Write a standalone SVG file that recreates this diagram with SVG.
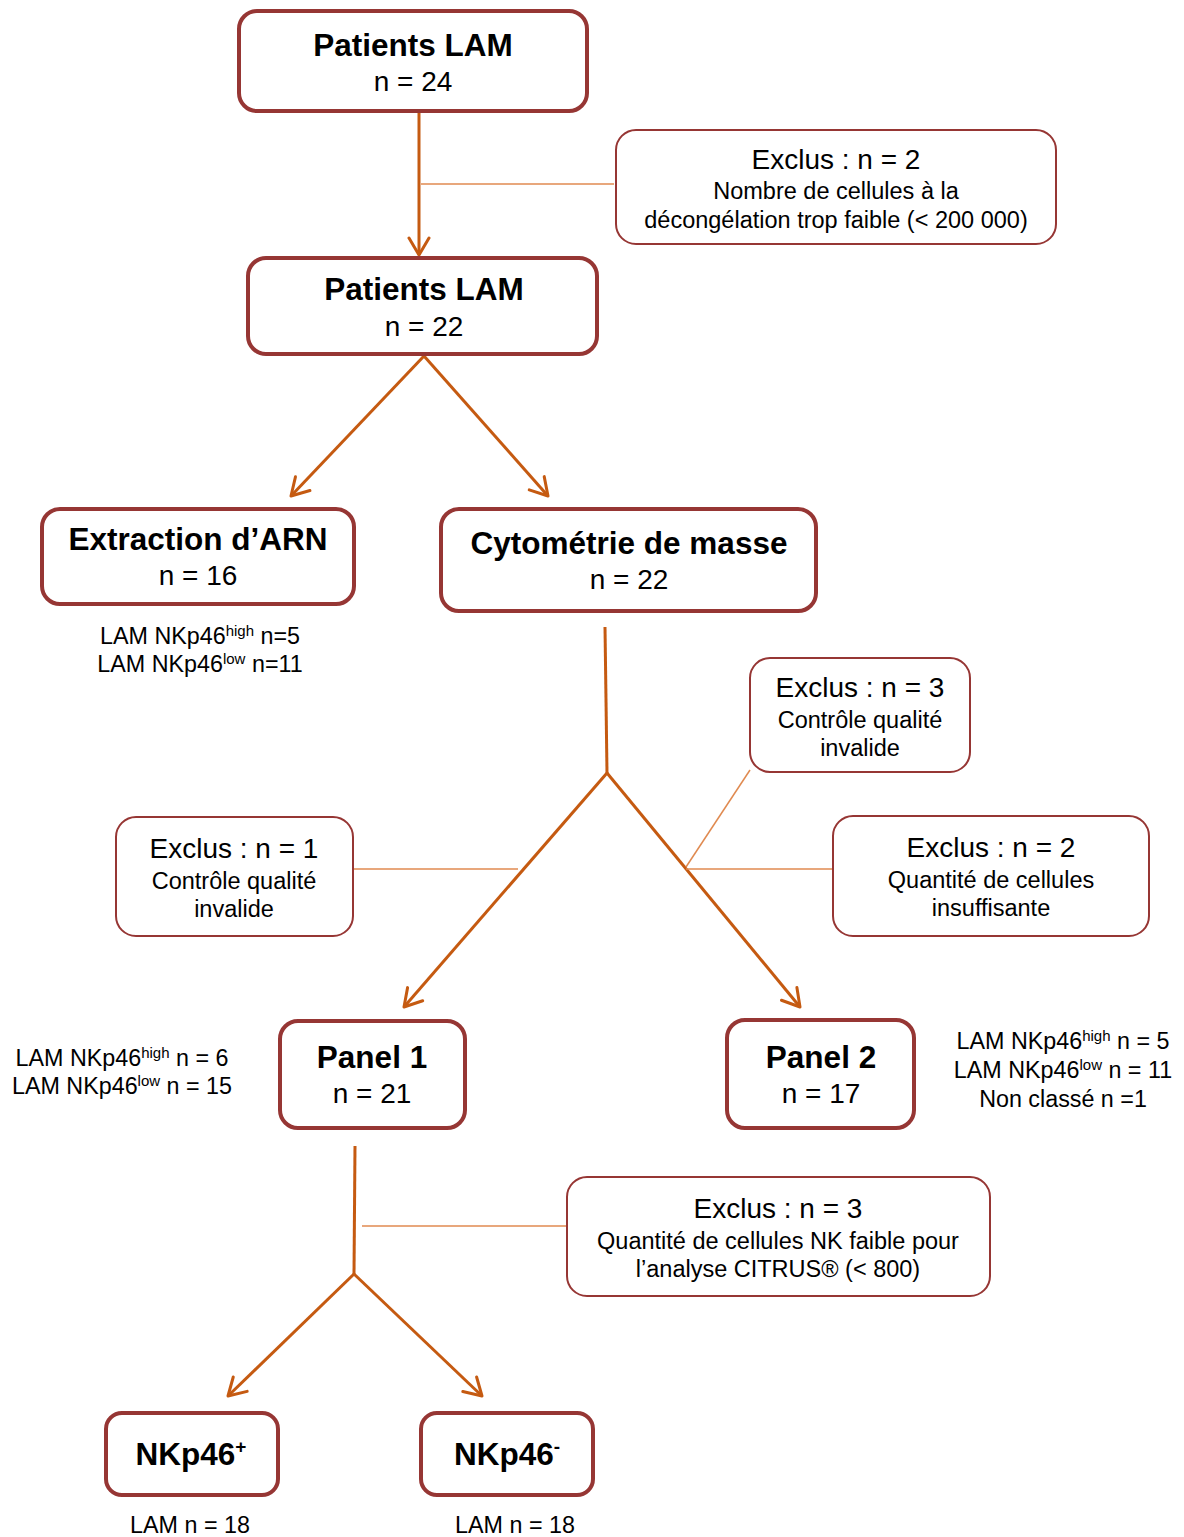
<svg xmlns="http://www.w3.org/2000/svg" width="1184" height="1537" viewBox="0 0 1184 1537">
<defs>
<style>
.node{fill:#fff;stroke:#963634;stroke-width:4}
.ex{fill:#fff;stroke:#963634;stroke-width:2}
.conn{fill:none;stroke:#C55A11;stroke-width:3}
.thin{fill:none;stroke:#E08A50;stroke-width:1.5}
text{font-family:"Liberation Sans",Arial,sans-serif;fill:#000;text-anchor:middle}
.b{font-weight:bold;font-size:31.5px}
.n{font-size:28px}
.eh{font-size:28px}
.es{font-size:23.5px}
.lab{font-size:23.3px}
</style>
<marker id="arr" markerUnits="userSpaceOnUse" viewBox="0 0 24 24" markerWidth="24" markerHeight="24" refX="21" refY="12" orient="auto">
<path d="M4,2 L21,12 L4,22" fill="none" stroke="#C55A11" stroke-width="3" stroke-linecap="round" stroke-linejoin="round"/>
</marker>
</defs>
<rect width="1184" height="1537" fill="#fff"/>
<g id="connectors">
<line class="conn" x1="419" y1="112" x2="419" y2="255" marker-end="url(#arr)"/>
<line class="thin" x1="421" y1="184" x2="614" y2="184"/>
<line class="conn" x1="424" y1="356" x2="291" y2="496" marker-end="url(#arr)"/>
<line class="conn" x1="424" y1="356" x2="548" y2="496" marker-end="url(#arr)"/>
<line class="conn" x1="605" y1="627" x2="607" y2="773"/>
<line class="conn" x1="607" y1="773" x2="404" y2="1007" marker-end="url(#arr)"/>
<line class="conn" x1="607" y1="773" x2="800" y2="1007" marker-end="url(#arr)"/>
<line class="thin" x1="354" y1="869" x2="518" y2="869"/>
<line class="thin" x1="750" y1="770" x2="686" y2="867"/>
<line class="thin" x1="686" y1="869" x2="832" y2="869"/>
<line class="conn" x1="355" y1="1146" x2="354" y2="1274"/>
<line class="conn" x1="354" y1="1274" x2="228" y2="1396" marker-end="url(#arr)"/>
<line class="conn" x1="354" y1="1274" x2="482" y2="1396" marker-end="url(#arr)"/>
<line class="thin" x1="362" y1="1226" x2="566" y2="1226"/>
</g>
<g id="n1"><rect class="node" x="239" y="11" width="348" height="100" rx="18"/><text class="b" x="413" y="56">Patients LAM</text><text class="n" x="413" y="91">n = 24</text></g>
<g id="ex1"><rect class="ex" x="616" y="130" width="440" height="114" rx="20"/><text class="eh" x="836" y="169">Exclus : n = 2</text><text class="es" x="836" y="199">Nombre de cellules à la</text><text class="es" x="836" y="228">décongélation trop faible (&lt; 200 000)</text></g>
<g id="n2"><rect class="node" x="248" y="258" width="349" height="96" rx="18"/><text class="b" x="424" y="300">Patients LAM</text><text class="n" x="424" y="336">n = 22</text></g>
<g id="n3"><rect class="node" x="42" y="509" width="312" height="95" rx="18"/><text class="b" x="198" y="550">Extraction d’ARN</text><text class="n" x="198" y="585">n = 16</text></g>
<g id="n4"><rect class="node" x="441" y="509" width="375" height="102" rx="18"/><text class="b" x="629" y="554">Cytométrie de masse</text><text class="n" x="629" y="589">n = 22</text></g>
<g id="lab1"><text class="lab" x="200" y="644">LAM NKp46<tspan font-size="15" dy="-8">high</tspan><tspan dy="8"> n=5</tspan></text><text class="lab" x="200" y="672">LAM NKp46<tspan font-size="15" dy="-8">low</tspan><tspan dy="8"> n=11</tspan></text></g>
<g id="ex2"><rect class="ex" x="750" y="658" width="220" height="114" rx="20"/><text class="eh" x="860" y="697">Exclus : n = 3</text><text class="es" x="860" y="728">Contrôle qualité</text><text class="es" x="860" y="756">invalide</text></g>
<g id="ex3"><rect class="ex" x="116" y="817" width="237" height="119" rx="20"/><text class="eh" x="234" y="858">Exclus : n = 1</text><text class="es" x="234" y="889">Contrôle qualité</text><text class="es" x="234" y="917">invalide</text></g>
<g id="ex4"><rect class="ex" x="833" y="816" width="316" height="120" rx="20"/><text class="eh" x="991" y="857">Exclus : n = 2</text><text class="es" x="991" y="888">Quantité de cellules</text><text class="es" x="991" y="916">insuffisante</text></g>
<g id="n5"><rect class="node" x="280" y="1021" width="185" height="107" rx="18"/><text class="b" x="372" y="1068">Panel 1</text><text class="n" x="372" y="1103">n = 21</text></g>
<g id="n6"><rect class="node" x="727" y="1020" width="187" height="108" rx="18"/><text class="b" x="821" y="1068">Panel 2</text><text class="n" x="821" y="1103">n = 17</text></g>
<g id="lab2"><text class="lab" x="122" y="1066">LAM NKp46<tspan font-size="15" dy="-8">high</tspan><tspan dy="8"> n = 6</tspan></text><text class="lab" x="122" y="1094">LAM NKp46<tspan font-size="15" dy="-8">low</tspan><tspan dy="8"> n = 15</tspan></text></g>
<g id="lab3"><text class="lab" x="1063" y="1049">LAM NKp46<tspan font-size="15" dy="-8">high</tspan><tspan dy="8"> n = 5</tspan></text><text class="lab" x="1063" y="1078">LAM NKp46<tspan font-size="15" dy="-8">low</tspan><tspan dy="8"> n = 11</tspan></text><text class="lab" x="1063" y="1107">Non classé n =1</text></g>
<g id="ex5"><rect class="ex" x="567" y="1177" width="423" height="119" rx="20"/><text class="eh" x="778" y="1218">Exclus : n = 3</text><text class="es" x="778" y="1249">Quantité de cellules NK faible pour</text><text class="es" x="778" y="1277">l’analyse CITRUS® (&lt; 800)</text></g>
<g id="n7"><rect class="node" x="106" y="1413" width="172" height="82" rx="16"/><text class="b" x="191" y="1465">NKp46<tspan font-size="19" dy="-12">+</tspan></text></g>
<g id="n8"><rect class="node" x="421" y="1413" width="172" height="82" rx="16"/><text class="b" x="507" y="1465">NKp46<tspan font-size="19" dy="-12">-</tspan></text></g>
<g id="lab4"><text class="lab" x="190" y="1533">LAM n = 18</text><text class="lab" x="515" y="1533">LAM n = 18</text></g>
</svg>
